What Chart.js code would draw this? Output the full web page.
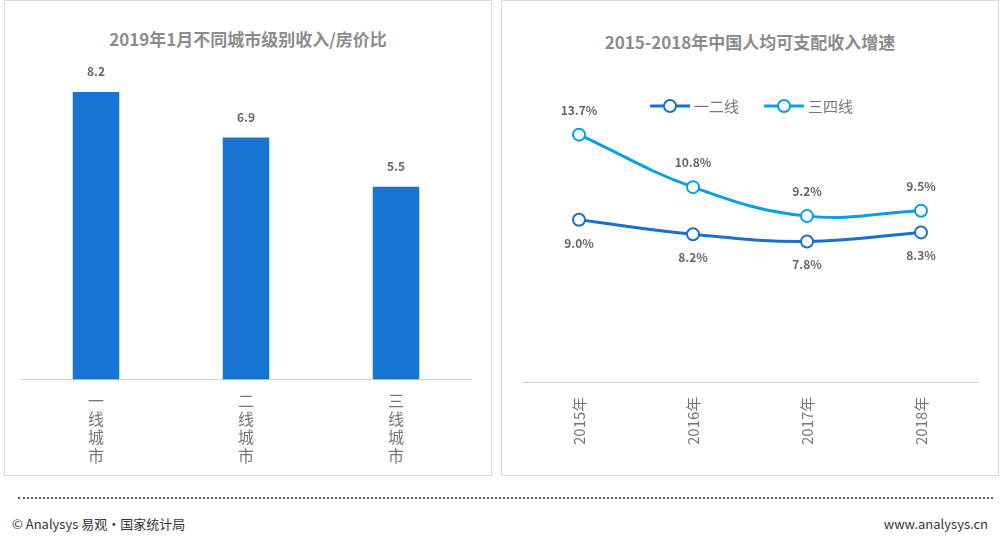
<!DOCTYPE html>
<html><head><meta charset="utf-8">
<script src="https://cdn.jsdelivr.net/npm/chart.js@4/dist/chart.umd.min.js"></script>
<style>
body{margin:0;width:1002px;height:548px;background:#fff;font-family:"Noto Sans CJK SC","Noto Sans",sans-serif;position:relative;overflow:hidden}
.panel{position:absolute;border:1px solid #d8d8d8;background:#fff}
.title{position:absolute;left:0;right:0;text-align:center;font-weight:bold;font-size:17px;color:#8c8c8c}
.foot{position:absolute;top:514px;font-size:13px;color:#333}
</style></head><body>
<div class="panel" style="left:4px;top:0;width:486px;height:474px">
<div class="title" style="top:25px">2019年1月不同城市级别收入/房价比</div>
<div style="position:absolute;left:0;top:0;width:486px;height:474px"><canvas id="c1"></canvas></div></div>
<div class="panel" style="left:501px;top:0;width:496px;height:474px">
<div class="title" style="top:28px">2015-2018年中国人均可支配收入增速</div>
<div style="position:absolute;left:0;top:0;width:496px;height:474px"><canvas id="c2"></canvas></div></div>
<div style="position:absolute;left:18px;top:497px;width:975px;border-top:2px dotted #555"></div>
<div class="foot" style="left:12px">© Analysys 易观·国家统计局</div>
<div class="foot" style="right:14px">www.analysys.cn</div>
<script>
const cities=["一线城市","二线城市","三线城市"];
const ratio=[8.2,6.9,5.5];
const years=["2015年","2016年","2017年","2018年"];
const tier12=[9.0,8.2,7.8,8.3];
const tier34=[13.7,10.8,9.2,9.5];
const names=["一二线","三四线"];
Chart.defaults.font.family='"Noto Sans CJK SC","Noto Sans",sans-serif';
const valLabels={id:'vl',afterDatasetsDraw(ch,a,o){const c=ch.ctx;c.save();c.font='bold 12px "Noto Sans CJK SC"';c.fillStyle='#666';c.textAlign='center';
ch.data.datasets.forEach((ds,i)=>{ch.getDatasetMeta(i).data.forEach((el,j)=>{const v=ds.data[j];
if(ch.config.type==='bar'){c.fillText(v.toFixed(1),el.x,el.y-16);}
else{const t=v.toFixed(1)+'%';c.fillText(t,el.x,i===1?el.y-20:el.y+28);}});});c.restore();}};
new Chart(document.getElementById('c1'),{type:'bar',data:{labels:cities.map(s=>s.split('')),datasets:[{data:ratio,backgroundColor:'#1874d2',barPercentage:0.47,categoryPercentage:0.66}]},
options:{responsive:true,maintainAspectRatio:false,animation:false,layout:{padding:{left:16,right:20,top:42,bottom:6}},plugins:{legend:{display:false},tooltip:{enabled:false}},
scales:{x:{grid:{display:false},border:{color:'#d0d0d0'},ticks:{color:'#777',font:{size:16,lineHeight:1.15},padding:4,maxRotation:0}},y:{display:false,min:0,max:9.6}}},plugins:[valLabels]});
const legendP={id:'lg',afterDraw(ch){const c=ch.ctx;c.save();const cols=['#1a6fcc','#0aa0e0'];const xs=[148,262];
names.forEach((n,i)=>{const x=xs[i],y=105;c.strokeStyle=cols[i];c.lineWidth=3;c.beginPath();c.moveTo(x,y);c.lineTo(x+40,y);c.stroke();c.beginPath();c.arc(x+20,y,6,0,Math.PI*2);c.fillStyle='#fff';c.fill();c.lineWidth=2;c.stroke();
c.fillStyle='#777';c.font='15px "Noto Sans CJK SC"';c.textBaseline='middle';c.fillText(n,x+44,y);});c.restore();}};
new Chart(document.getElementById('c2'),{type:'line',data:{labels:years,datasets:[
{data:tier12,borderColor:'#1a6fcc',backgroundColor:'#fff',borderWidth:3,pointRadius:6,pointBorderWidth:2,tension:0.4},
{data:tier34,borderColor:'#0aa0e0',backgroundColor:'#fff',borderWidth:3,pointRadius:6,pointBorderWidth:2,tension:0.4}]},
options:{responsive:true,maintainAspectRatio:false,animation:false,layout:{padding:{left:20,right:20,top:92,bottom:24}},plugins:{legend:{display:false},tooltip:{enabled:false}},
scales:{x:{offset:true,grid:{display:false},border:{color:'#d0d0d0'},ticks:{color:'#777',font:{size:15},minRotation:90,maxRotation:90,padding:6}},y:{display:false,min:0,max:16}}},plugins:[valLabels,legendP]});
</script></body></html>
